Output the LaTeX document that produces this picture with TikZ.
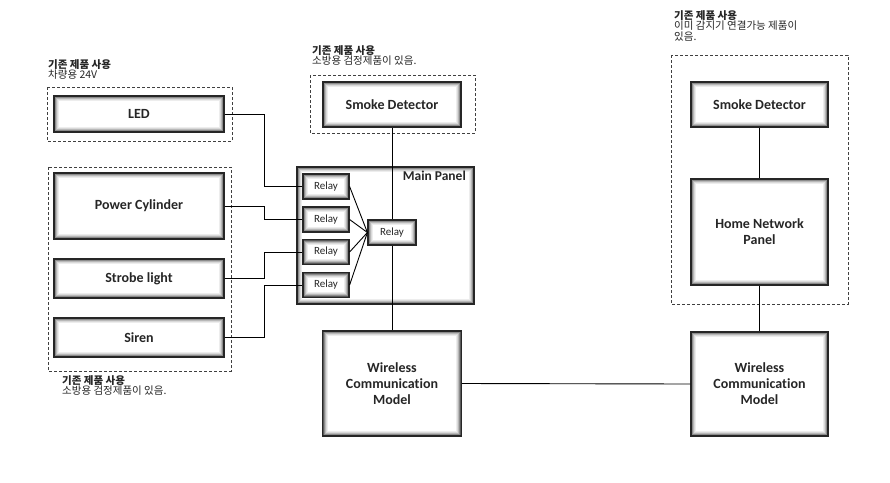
\documentclass[tikz,border=0pt]{standalone}
\usepackage{fontspec}
\setmainfont{Carlito}[Ligatures=NoCommon]
\newfontfamily\kr{Noto Sans CJK KR}
\usetikzlibrary{calc}
\begin{document}
\begin{tikzpicture}[x=1pt,y=-1pt,
  sbox/.style={draw=black!85, line width=1.2pt, fill=white, font=\bfseries\fontsize{14}{16}\selectfont, text=black!85, align=center, inner sep=0pt,
    path picture={
      \foreach \i/\c in {0.8/65,1.8/45,2.8/28,3.8/15,4.8/7}{
        \draw[black!\c, line width=1pt] ([shift={(\i pt,-\i pt)}]path picture bounding box.north west) rectangle ([shift={(-\i pt,\i pt)}]path picture bounding box.south east);}
    }},
  relay/.style={sbox, font=\fontsize{11}{12}\selectfont, minimum width=46pt, minimum height=25pt},
  grp/.style={draw=black!75, line width=0.9pt, dash pattern=on 3pt off 2pt},
  wire/.style={draw=black, line width=0.9pt},
  lab/.style={anchor=north west, inner sep=0pt, align=left, font=\kr\fontsize{10.5}{10.5}\selectfont, text=black!85}
]
\useasboundingbox (0,0) rectangle (890,482);
\fill[white] (0,0) rectangle (890,482);

% dashed groups
\draw[grp] (47,87) rectangle (232,141);
\draw[grp] (48,167) rectangle (231,371);
\draw[grp] (310,75) rectangle (475,133);
\draw[grp] (671,55) rectangle (848,304);

% group labels
\node[lab] (l1) at (48,59) {\textbf{기존 제품 사용}\\차량용 24V};
\node[lab] (l2) at (312,45) {\textbf{기존 제품 사용}\\소방용 검정제품이 있음.};
\node[lab] (l3) at (674,10) {\textbf{기존 제품 사용}\\이미 감지기 연결가능 제품이\\있음.};
\node[lab] (l4) at (62,375) {\textbf{기존 제품 사용}\\소방용 검정제품이 있음.};

% left devices
\node[sbox, minimum width=170pt, minimum height=36pt] (led) at (139,114) {LED};
\node[sbox, minimum width=170pt, minimum height=66pt] (pc) at (139,206) {Power Cylinder};
\node[sbox, minimum width=170pt, minimum height=39pt] (st) at (139,278.5) {Strobe light};
\node[sbox, minimum width=170pt, minimum height=39pt] (si) at (139,337.5) {Siren};

% middle column
\node[sbox, minimum width=138pt, minimum height=45pt] (smokeL) at (392,104.5) {Smoke Detector};
\node[sbox, minimum width=177pt, minimum height=137pt] (mp) at (385.5,235.5) {};
\node[anchor=north east, inner sep=0pt, font=\bfseries\fontsize{13.5}{15}\selectfont, text=black!85] (mpl) at (466,171) {Main Panel};
\node[sbox, minimum width=139pt, minimum height=105pt] (wl) at (392,383.5) {Wireless\\Communication\\Model};

% right column
\node[sbox, minimum width=137pt, minimum height=45pt] (smokeR) at (759.5,104.5) {Smoke Detector};
\node[sbox, minimum width=137pt, minimum height=106pt] (home) at (759.5,232) {Home Network\\Panel};
\node[sbox, minimum width=137pt, minimum height=104pt] (wr) at (759.5,384) {Wireless\\Communication\\Model};

% vertical line through main panel
\draw[wire] (smokeL.south) -- (wl.north);

% relays
\node[relay] (r1) at (326,186.5) {Relay};
\node[relay] (r2) at (326,219.5) {Relay};
\node[relay] (r3) at (326,252) {Relay};
\node[relay] (r4) at (326,285) {Relay};
\node[relay, minimum width=48pt] (cr) at (392,232.5) {Relay};

\coordinate (bx) at (264,0);
\draw[wire] (led.east) -| (bx |- r1.west) -- (r1.west);
\draw[wire] (pc.east) -| (bx |- r2.west) -- (r2.west);
\draw[wire] (st.east) -| (bx |- r3.west) -- (r3.west);
\draw[wire] (si.east) -| (bx |- r4.west) -- (r4.west);

\foreach \r in {r1,r2,r3,r4}{\draw[wire] (\r.east) -- (cr.west);}

\draw[wire] (smokeR.south) -- (home.north);
\draw[wire] (home.south) -- (wr.north);
\draw[wire] (wl.east) -- (wr.west);
\end{tikzpicture}
\end{document}
